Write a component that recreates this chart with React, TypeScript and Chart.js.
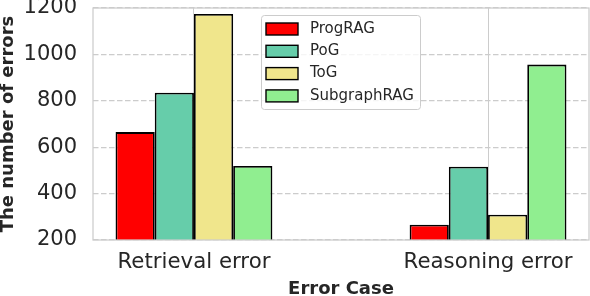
import React, { useEffect, useRef } from "react";
import { Chart, registerables } from "chart.js";

Chart.register(...registerables);

const categories = ["Retrieval error", "Reasoning error"];
const seriesNames = ["ProgRAG", "PoG", "ToG", "SubgraphRAG"];
const progRAG = [665, 266];
const poG = [835, 516];
const toG = [1174, 309];
const subgraphRAG = [519, 956];
const seriesColors = ["#ff0000", "#66cdaa", "#f0e68c", "#90ee90"];
const yTicks = [200, 400, 600, 800, 1000, 1200];

const FONT = "'DejaVu Sans', sans-serif";
const TEXT = "#262626";
const GRID = "#cccccc";

const framePlugin = {
  id: "frameAndLegend",
  afterDatasetsDraw(chart: any) {
    const { ctx, chartArea } = chart;
    ctx.save();
    ctx.strokeStyle = GRID;
    ctx.lineWidth = 1.25;
    ctx.strokeRect(chartArea.left, chartArea.top, chartArea.right - chartArea.left, chartArea.bottom - chartArea.top);
    ctx.restore();
  },
  afterDraw(chart: any) {
    const { ctx, chartArea } = chart;
    const bx = chartArea.left + 168;
    const by = chartArea.top + 7;
    const bw = 159;
    const bh = 94;
    ctx.save();
    ctx.beginPath();
    if (ctx.roundRect) ctx.roundRect(bx + 0.5, by + 0.5, bw, bh, 3);
    else ctx.rect(bx + 0.5, by + 0.5, bw, bh);
    ctx.fillStyle = "rgba(255,255,255,0.8)";
    ctx.fill();
    ctx.strokeStyle = GRID;
    ctx.lineWidth = 1;
    ctx.stroke();
    chart.data.datasets.forEach((ds: any, i: number) => {
      const cy = by + 14 + i * 22.3;
      ctx.fillStyle = ds.backgroundColor;
      ctx.fillRect(bx + 5, cy - 6, 32, 12);
      ctx.strokeStyle = "#000";
      ctx.lineWidth = 1.4;
      ctx.strokeRect(bx + 5, cy - 6, 32, 12);
      ctx.fillStyle = TEXT;
      ctx.font = `15px ${FONT}`;
      ctx.textBaseline = "middle";
      ctx.textAlign = "left";
      ctx.fillText(ds.label, bx + 49, cy);
    });
    ctx.restore();
  },
};

export default function App() {
  const ref = useRef<HTMLCanvasElement | null>(null);
  useEffect(() => {
    if (!ref.current) return;
    const all = [progRAG, poG, toG, subgraphRAG];
    const chart = new Chart(ref.current, {
      type: "bar",
      data: {
        datasets: all.map((vals, s) => ({
          label: seriesNames[s],
          data: vals.map((v, i) => ({ x: i, y: v })),
          backgroundColor: seriesColors[s],
          borderColor: "#000000",
          borderWidth: 1.8,
          categoryPercentage: 0.5333,
          barPercentage: 1,
        })),
      },
      options: {
        animation: false,
        responsive: true,
        maintainAspectRatio: false,
        layout: { padding: { top: 8, right: 1, left: 0, bottom: 0 } },
        plugins: { legend: { display: false }, tooltip: { enabled: false } },
        scales: {
          x: {
            type: "linear",
            min: -0.3433,
            max: 1.3433,
            offset: false,
            afterBuildTicks: (scale: any) => {
              scale.ticks = categories.map((_, i) => ({ value: i }));
            },
            afterFit: (scale: any) => {
              scale.height = 56;
              scale.paddingLeft = 0;
              scale.paddingRight = 0;
            },
            ticks: {
              callback: (v: any) => categories[v as number] ?? "",
              font: { family: FONT, size: 21.3 },
              color: TEXT,
              padding: 10,
              maxRotation: 0,
              autoSkip: false,
            },
            grid: { color: GRID, lineWidth: 1, drawTicks: false, offset: false },
            border: { display: false },
            title: {
              display: true,
              text: "Error Case",
              font: { family: FONT, size: 18, weight: "bold", lineHeight: 1 },
              color: TEXT,
              padding: { top: 0, bottom: -2 },
            },
          },
          y: {
            min: 200,
            max: 1200,
            afterBuildTicks: (scale: any) => {
              scale.ticks = yTicks.map((v) => ({ value: v }));
            },
            afterFit: (scale: any) => {
              scale.width = 93;
              scale.paddingTop = 0;
              scale.paddingBottom = 0;
            },
            ticks: {
              callback: (v: any) => String(v),
              font: { family: FONT, size: 21 },
              color: TEXT,
              padding: 16,
            },
            grid: { color: GRID, lineWidth: 1.2, drawTicks: false },
            border: { display: false, dash: [5.5, 2.5] },
            title: {
              display: true,
              text: "The number of errors",
              font: { family: FONT, size: 18, weight: "bold", lineHeight: 1 },
              color: TEXT,
              padding: { top: -1, bottom: 0 },
            },
          },
        },
      },
      plugins: [framePlugin],
    } as any);
    return () => chart.destroy();
  }, []);
  return (
    <div style={{ position: "fixed", left: 0, top: 0, width: 590, height: 296, background: "#fff" }}>
      <canvas ref={ref} />
    </div>
  );
}
